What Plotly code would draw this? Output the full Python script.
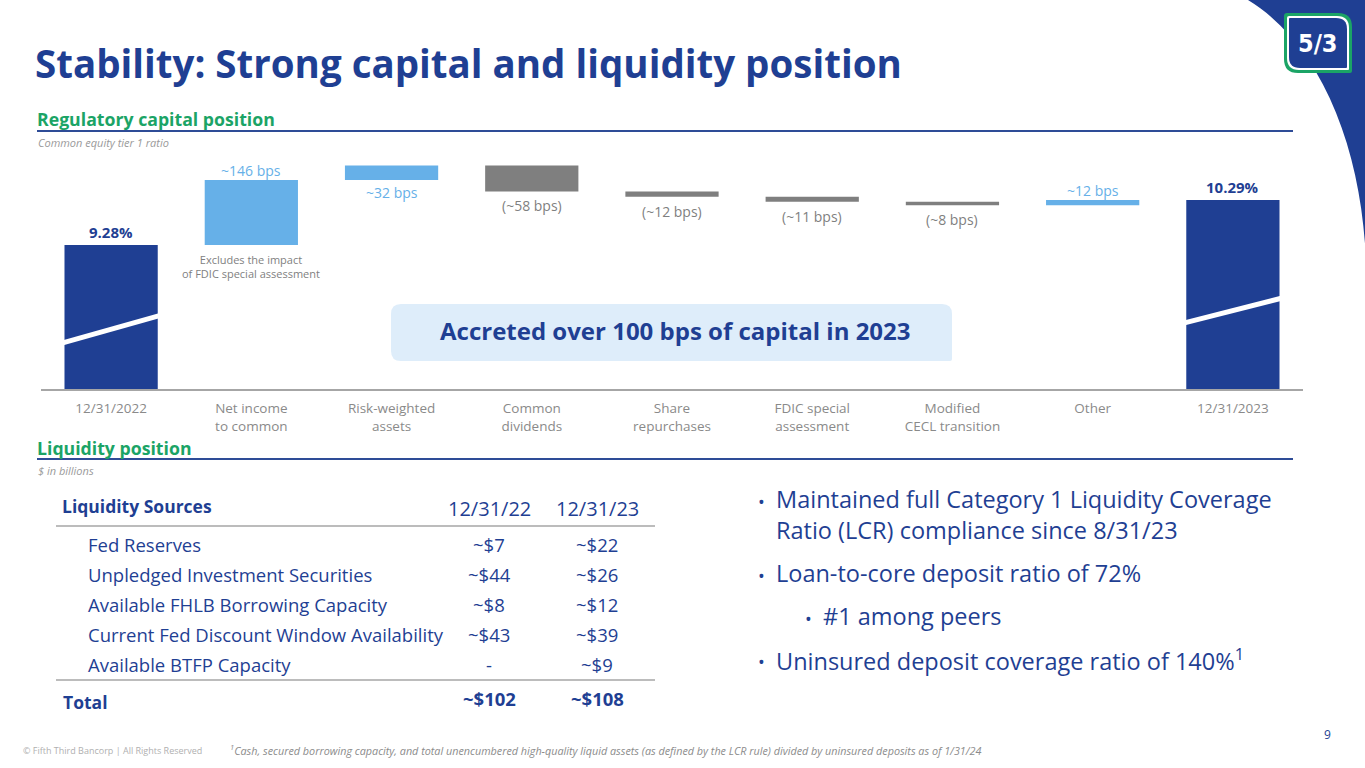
import plotly.graph_objects as go

W, H = 1365, 768
NAVY = "#1F3F93"
LBLUE = "#66B0E8"
GRAY = "#7F7F7F"
GREEN = "#1BA466"
FONT = "Open Sans"

# ---------------- data ----------------
categories = ["12/31/2022", "Net income<br>to common", "Risk-weighted<br>assets",
              "Common<br>dividends", "Share<br>repurchases", "FDIC special<br>assessment",
              "Modified<br>CECL transition", "Other", "12/31/2023"]
start_cet1 = 9.28
changes_bps = [146, 32, -58, -12, -11, -8, 12]
end_cet1 = 10.29
bar_labels = ["9.28%", "~146 bps", "~32 bps", "(~58 bps)", "(~12 bps)",
              "(~11 bps)", "(~8 bps)", "~12 bps", "10.29%"]
label_side = ["above", "above", "below", "below", "below", "below", "below", "above", "above"]

liq_sources = ["Fed Reserves", "Unpledged Investment Securities",
               "Available FHLB Borrowing Capacity",
               "Current Fed Discount Window Availability", "Available BTFP Capacity"]
liq_2022 = ["~$7", "~$44", "~$8", "~$43", "-"]
liq_2023 = ["~$22", "~$26", "~$12", "~$39", "~$9"]
liq_total = ["~$102", "~$108"]
liq_headers = ["Liquidity Sources", "12/31/22", "12/31/23"]

bullet_lines = [["Maintained full Category 1 Liquidity Coverage",
                 "Ratio (LCR) compliance since 8/31/23"],
                ["Loan-to-core deposit ratio of 72%"],
                ["#1 among peers"],
                ["Uninsured deposit coverage ratio of 140%<sup>1</sup>"]]
bullet_levels = [0, 0, 1, 0]

# ---------------- helpers ----------------
def px(x):
    return x / W

def py(y):
    return 1 - y / H

def rrect(x0, y0, x1, y1, tl=0, tr=0, br=0, bl=0):
    pts = [f"M {px(x0+tl)},{py(y0)}", f"L {px(x1-tr)},{py(y0)}"]
    if tr:
        pts.append(f"Q {px(x1)},{py(y0)} {px(x1)},{py(y0+tr)}")
    pts.append(f"L {px(x1)},{py(y1-br)}")
    if br:
        pts.append(f"Q {px(x1)},{py(y1)} {px(x1-br)},{py(y1)}")
    pts.append(f"L {px(x0+bl)},{py(y1)}")
    if bl:
        pts.append(f"Q {px(x0)},{py(y1)} {px(x0)},{py(y1-bl)}")
    pts.append(f"L {px(x0)},{py(y0+tl)}")
    if tl:
        pts.append(f"Q {px(x0)},{py(y0)} {px(x0+tl)},{py(y0)}")
    pts.append("Z")
    return " ".join(pts)

annotations = []
shapes = []

def text(x, y, s, size, color, bold=False, italic=False, anchor="left", yanchor="middle", family=FONT):
    annotations.append(dict(
        x=px(x), y=py(y), xref="paper", yref="paper", text=s, showarrow=False,
        xanchor=anchor, yanchor=yanchor, borderpad=0,
        font=dict(family=family, size=size, color=color,
                  weight="bold" if bold else "normal",
                  style="italic" if italic else "normal"),
    ))

def hline(x0, x1, y, color, width):
    shapes.append(dict(type="line", xref="paper", yref="paper",
                       x0=px(x0), x1=px(x1), y0=py(y), y1=py(y),
                       line=dict(color=color, width=width)))

# ---------------- waterfall ----------------
measures = ["absolute"] + ["relative"] * len(changes_bps) + ["total"]
yvals = [start_cet1] + [c / 100 for c in changes_bps] + [end_cet1]

fig = go.Figure()
fig.add_trace(go.Waterfall(
    x=categories, y=yvals, measure=measures,
    increasing=dict(marker=dict(color=LBLUE)),
    decreasing=dict(marker=dict(color=GRAY)),
    totals=dict(marker=dict(color=NAVY)),
    connector=dict(visible=False),
    width=0.665, textposition="none", hoverinfo="skip",
))

y_low = 6.05
tops, bots = [], []
level = start_cet1
tops.append(start_cet1); bots.append(y_low)
for c in changes_bps:
    new = level + c / 100
    tops.append(max(level, new)); bots.append(min(level, new))
    level = new
tops.append(end_cet1); bots.append(y_low)

for i, (cat, lab, side) in enumerate(zip(categories, bar_labels, label_side)):
    is_total = i in (0, len(categories) - 1)
    if is_total:
        col = NAVY
    elif changes_bps[i - 1] > 0:
        col = LBLUE
    else:
        col = GRAY
    if side == "above":
        annotations.append(dict(x=cat, y=tops[i], xref="x", yref="y", text=lab,
                                showarrow=False, yanchor="bottom",
                                yshift=1 if is_total else -2,
                                font=dict(family=FONT, size=15 if is_total else 14, color=col,
                                          weight="bold" if is_total else "normal")))
    else:
        annotations.append(dict(x=cat, y=bots[i], xref="x", yref="y", text=lab,
                                showarrow=False, yanchor="top",
                                yshift=-1 if col == LBLUE else -3,
                                font=dict(family=FONT, size=14, color=col)))

# axis-break slashes on the total bars
for idx, (f0, f1) in [(0, (0.32, 0.51)), (len(categories) - 1, (0.35, 0.48))]:
    h = tops[idx] - y_low
    shapes.append(dict(type="line", xref="x", yref="y",
                       x0=idx - 0.345, x1=idx + 0.345,
                       y0=y_low + f0 * h, y1=y_low + f1 * h,
                       line=dict(color="white", width=5), layer="above"))

annotations.append(dict(x=categories[1], y=bots[1], xref="x", yref="y",
                        text="Excludes the impact<br>of FDIC special assessment",
                        showarrow=False, yanchor="top", yshift=-5,
                        font=dict(family=FONT, size=11, color=GRAY)))

# ---------------- decorations ----------------
shapes.append(dict(type="path", xref="paper", yref="paper",
                   path=f"M {px(1248)},{py(0)} C {px(1322)},{py(45)} {px(1362)},{py(150)} {px(1366)},{py(262)} L {px(1366)},{py(0)} Z",
                   fillcolor=NAVY, line=dict(width=0), layer="below"))
shapes.append(dict(type="path", xref="paper", yref="paper",
                   path=rrect(1284, 13, 1352, 73, tl=3, tr=14, br=2, bl=14),
                   fillcolor=GREEN, line=dict(width=0)))
shapes.append(dict(type="path", xref="paper", yref="paper",
                   path=rrect(1287, 16, 1349, 70, tl=2, tr=12, br=1, bl=12),
                   fillcolor="white", line=dict(width=0)))
shapes.append(dict(type="path", xref="paper", yref="paper",
                   path=rrect(1289, 18, 1347, 68, tl=1, tr=11, br=1, bl=11),
                   fillcolor=NAVY, line=dict(width=0)))
text(1318, 44, "5/3", 25, "white", bold=True, anchor="center",
     family="DejaVu Sans Condensed, Liberation Sans Narrow, DejaVu Sans")

# title
text(34, 63, "Stability: Strong capital and liquidity position", 38.5, NAVY, bold=True)

# section headers
text(36, 119, "Regulatory capital position", 17.7, GREEN, bold=True)
hline(37, 1293, 131, "#2E4C97", 2)
text(37, 143, "Common equity tier 1 ratio", 11, "#9A9A9A", italic=True)

text(36, 448, "Liquidity position", 17.7, GREEN, bold=True)
hline(37, 1293, 459, "#2E4C97", 2)
text(37, 470, "$ in billions", 11, "#9A9A9A", italic=True)

# callout box
shapes.append(dict(type="path", xref="paper", yref="paper",
                   path=rrect(391, 304, 952, 361, tl=10, tr=10, br=2, bl=10),
                   fillcolor="#DEEDFA", line=dict(width=0), layer="below"))
text(675, 331, "Accreted over 100 bps of capital in 2023", 24, NAVY, bold=True, anchor="center")

# ---------------- liquidity table ----------------
col_x = [61, 489, 597]
text(col_x[0], 506, liq_headers[0], 17.5, NAVY, bold=True)
text(col_x[1], 508, liq_headers[1], 20, NAVY, anchor="center")
text(col_x[2], 508, liq_headers[2], 20, NAVY, anchor="center")
hline(56, 655, 526, "#A6A6A6", 1.5)
row_y0, row_dy = 544, 30
for i, (name, a, b) in enumerate(zip(liq_sources, liq_2022, liq_2023)):
    y = row_y0 + i * row_dy
    text(87, y, name, 18.5, NAVY)
    text(col_x[1], y, a, 18.5, NAVY, anchor="center")
    text(col_x[2], y, b, 18.5, NAVY, anchor="center")
hline(56, 655, 680, "#A6A6A6", 1.5)
text(62, 702, "Total", 17.5, NAVY, bold=True)
text(col_x[1], 698, liq_total[0], 18.5, NAVY, bold=True, anchor="center")
text(col_x[2], 698, liq_total[1], 18.5, NAVY, bold=True, anchor="center")

# ---------------- bullets ----------------
bullet_y = [499, 573, 616, 659]
BSIZE = 23.5
for lines, lvl, y in zip(bullet_lines, bullet_levels, bullet_y):
    bx = 757 + lvl * 47
    text(bx, y + 3, "•", 18, NAVY)
    for j, ln in enumerate(lines):
        text(bx + 18, y + j * 31, ln, BSIZE, NAVY)

# ---------------- footer ----------------
text(22, 750, "© Fifth Third Bancorp | All Rights Reserved", 9, "#B0B0B0")
text(229, 750, "<sup>1</sup>Cash, secured borrowing capacity, and total unencumbered high-quality liquid assets (as defined by the LCR rule) divided by uninsured deposits as of 1/31/24",
     10.8, "#8C8C8C", italic=True)
text(1327, 734, "9", 12, NAVY, anchor="center")

fig.update_layout(
    width=W, height=H, margin=dict(l=0, r=0, t=0, b=0),
    paper_bgcolor="white", plot_bgcolor="rgba(0,0,0,0)",
    showlegend=False,
    xaxis=dict(domain=[px(41), px(1303)], showline=True, linecolor="#A6A6A6", linewidth=1.5,
               showgrid=False, zeroline=False, ticks="", ticklabelstandoff=6,
               tickfont=dict(family=FONT, size=13.5, color="#8A8A8A"), fixedrange=True),
    yaxis=dict(domain=[py(389), py(150)], range=[y_low, 11.41], visible=False,
               showgrid=False, zeroline=False, fixedrange=True),
    annotations=annotations, shapes=shapes,
)

fig.write_html("out.html", config={"displayModeBar": False},
               post_script="document.body.style.margin='0px';")
